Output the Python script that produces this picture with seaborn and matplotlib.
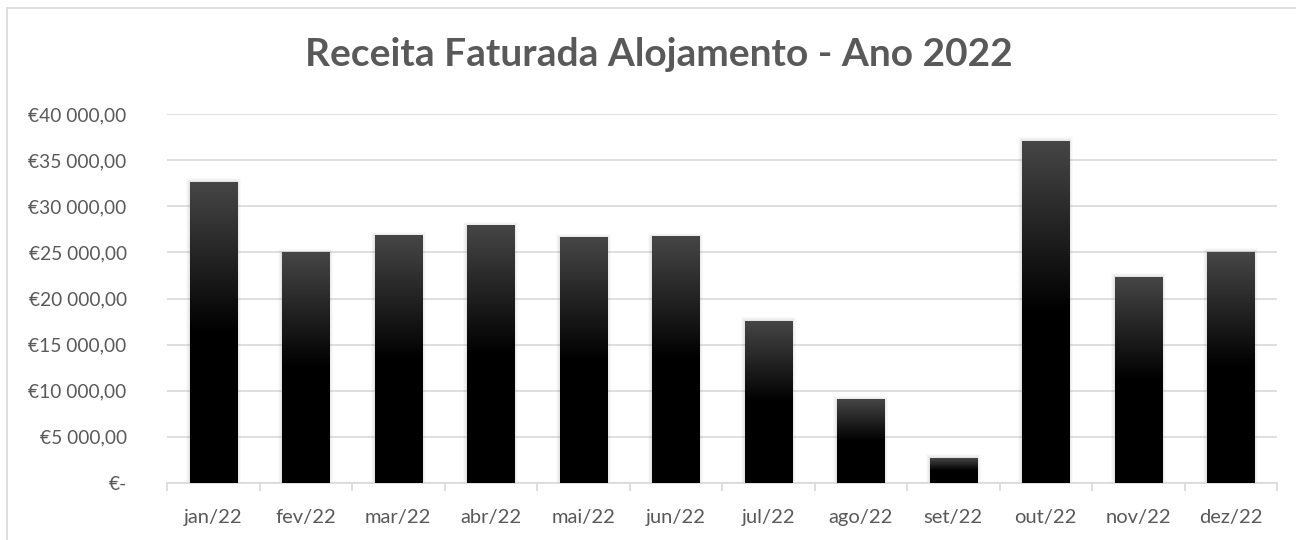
import numpy as np
import pandas as pd
import matplotlib
matplotlib.use("Agg")
import matplotlib.pyplot as plt
import seaborn as sns
from matplotlib.colors import LinearSegmentedColormap
from matplotlib.patches import Rectangle
from matplotlib.ticker import FuncFormatter, FixedLocator

# dados
meses = ['jan/22', 'fev/22', 'mar/22', 'abr/22', 'mai/22', 'jun/22',
         'jul/22', 'ago/22', 'set/22', 'out/22', 'nov/22', 'dez/22']
receita = [32600, 24950, 26780, 27860, 26560, 26670,
           17560, 9000, 2710, 37070, 22330, 25040]
y_ticks = [0, 5000, 10000, 15000, 20000, 25000, 30000, 35000, 40000]

df = pd.DataFrame({'mes': meses, 'receita': receita})

sns.set_style('white')
plt.rcParams['font.family'] = ['Lato', 'DejaVu Sans']

fig = plt.figure(figsize=(12.96, 5.4), dpi=100)
ax = fig.add_axes([167 / 1296, 57 / 540, 1110 / 1296, 369 / 540])

sns.barplot(data=df, x='mes', y='receita', color='black', width=0.51,
            saturation=1, ax=ax, zorder=3, linewidth=0, edgecolor='none')

# gradiente tipo Excel: cinzento no topo, preto a partir do meio
cmap = LinearSegmentedColormap.from_list('grad', [(0, '#000000'), (0.5, '#000000'), (1, '#464646')])
grad = np.linspace(0, 1, 256).reshape(-1, 1)
px_x = 12 / 1110
px_y = 40000 / 369
for p in ax.patches[:]:
    x0, w, h = p.get_x(), p.get_width(), p.get_height()
    # sombra suave
    for k, a in [(4, 0.04), (3, 0.05), (2, 0.06), (1, 0.08)]:
        ax.add_patch(Rectangle((x0 - k * px_x, 0), w + 2 * k * px_x, h + k * px_y,
                               facecolor='#808080', alpha=a, edgecolor='none',
                               linewidth=0, zorder=2))
    ax.imshow(grad, cmap=cmap, origin='lower', aspect='auto',
              extent=[x0, x0 + w, 0, h], zorder=4, interpolation='bilinear')

ax.set_xlim(-0.5, 11.5)
ax.set_ylim(0, 40000)

# grelha e eixos
ax.yaxis.set_major_locator(FixedLocator(y_ticks))
ax.grid(axis='y', color='#d9d9d9', linewidth=1.2, zorder=0)
ax.set_axisbelow(True)
for s in ['top', 'right', 'left']:
    ax.spines[s].set_visible(False)
ax.spines['bottom'].set_color('#d9d9d9')
ax.spines['bottom'].set_linewidth(1.2)


def euro(v, pos):
    if v == 0:
        return '€-'
    s = f'{v:,.2f}'.replace(',', ' ').replace('.', ',')
    return '€' + s


ax.yaxis.set_major_formatter(FuncFormatter(euro))
ax.tick_params(axis='y', length=0, pad=29, labelsize=13.8, labelcolor='#595959')
ax.tick_params(axis='x', length=0, pad=19, labelsize=14.5, labelcolor='#595959')
ax.set_xlabel('')
ax.set_ylabel('')

# marcas de separação entre categorias
ax.set_xticks(np.arange(-0.5, 12, 1), minor=True)
ax.tick_params(axis='x', which='minor', bottom=True, length=6, width=1.2,
               color='#d9d9d9', direction='out')

fig.text(659 / 1296, 1 - 55 / 540, 'Receita Faturada Alojamento - Ano 2022',
         ha='center', va='center', fontsize=28, fontweight='bold', color='#595959')

# moldura do gráfico
fig.add_artist(Rectangle((7 / 1296, -0.1), 1.2, 1 - 8 / 540 + 0.1, transform=fig.transFigure,
                         facecolor='none', edgecolor='#d9d9d9', linewidth=1.2))

fig.savefig('out.png', dpi=100, facecolor='white')
